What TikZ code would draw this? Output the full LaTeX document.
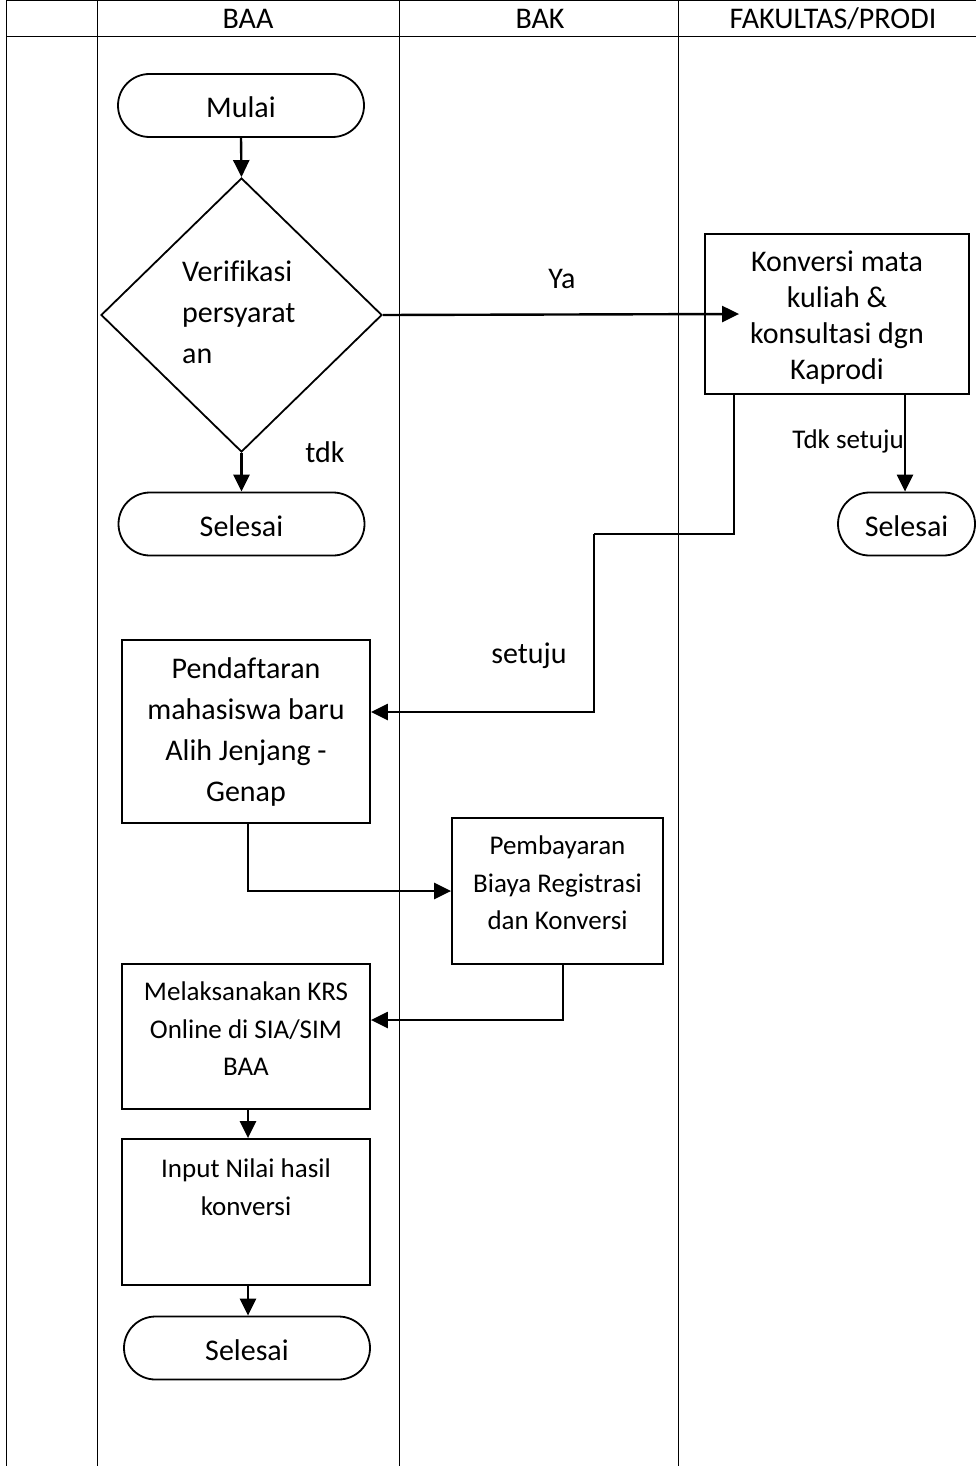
\documentclass[tikz,border=0pt]{standalone}
\usepackage{fontspec}
\setmainfont[Ligatures=NoCommon]{Carlito}
\usetikzlibrary{shapes.geometric,shapes.misc,arrows.meta}
\begin{document}
\begin{tikzpicture}[x=1pt,y=-1pt,
  grid/.style={line width=1pt},
  bigtxt/.style={font=\fontsize{30}{41}\selectfont, inner sep=0pt, align=center},
  smalltxt/.style={font=\fontsize{27}{37.5}\selectfont, inner sep=0pt, align=center},
  hdr/.style={font=\fontsize{30}{34}\selectfont, inner sep=0pt},
  terminal/.style={draw, line width=1.8pt, rounded rectangle, minimum width=246pt, minimum height=63pt, inner sep=0pt, text height=26pt, text depth=2pt, font=\fontsize{30}{36}\selectfont},
  procbox/.style={draw, line width=1.8pt, rectangle, inner sep=0pt},
  arr/.style={line width=2.4pt, -{Triangle[length=17pt,width=16pt]}},
  conn/.style={line width=2.4pt}
]
\useasboundingbox (0,0) rectangle (976,1466);
% swimlane table
\draw[grid] (6,1) -- (976,1);
\draw[grid] (6,37) -- (976,37);
\draw[grid] (6,1) -- (6,1466);
\draw[grid] (97,1) -- (97,1466);
\draw[grid] (399,1) -- (399,1466);
\draw[grid] (678,1) -- (678,1466);
\node[hdr] (hbaa) at (248,19) {BAA};
\node[hdr] (hbak) at (540,19) {BAK};
\node[hdr] (hfak) at (833,19) {FAKULTAS/PRODI};

% nodes
\node[terminal] (mulai) at (241,105.5) {Mulai};
\node[draw, line width=1.8pt, diamond, minimum width=281pt, minimum height=274pt, inner sep=0pt] (dec) at (241.5,315) {};
\node[bigtxt, align=left, anchor=west] (dectxt) at (182,312) {Verifikasi\\persyarat\\an};
\node[terminal] (sel1) at (241.5,524) {Selesai};

\node[procbox, minimum width=264pt, minimum height=160pt] (konv) at (837,314) {};
\node[bigtxt, font=\fontsize{30}{36}\selectfont] (konvtxt) at (837,318) {Konversi mata\\kuliah \&\\konsultasi dgn\\Kaprodi};
\node[terminal, minimum width=137pt] (sel2) at (906.5,524) {Selesai};

\node[procbox, minimum width=248pt, minimum height=183pt] (pend) at (246,731.5) {};
\node[bigtxt] (pendtxt) at (246,732) {Pendaftaran\\mahasiswa baru\\Alih Jenjang -\\Genap};

\node[procbox, minimum width=211pt, minimum height=146pt] (pemb) at (557.5,891) {};
\node[smalltxt] (pembtxt) at (557.5,883) {Pembayaran\\Biaya Registrasi\\dan Konversi};

\node[procbox, minimum width=248pt, minimum height=145pt] (melak) at (246,1036.5) {};
\node[smalltxt] (melaktxt) at (246,1029) {Melaksanakan KRS\\Online di SIA/SIM\\BAA};

\node[procbox, minimum width=248pt, minimum height=146pt] (inp) at (246,1212) {};
\node[smalltxt] (inptxt) at (246,1187) {Input Nilai hasil\\konversi};

\node[terminal] (sel3) at (247,1348) {Selesai};

% labels
\node[bigtxt] (lya) at (562,279) {Ya};
\node[bigtxt] (ltdk) at (325,452) {tdk};
\node[bigtxt] (lsetuju) at (529,656) {setuju};
\node[smalltxt, anchor=east] (ltdks) at (904,441) {Tdk setuju};

% connectors
\coordinate (konvR) at ([xshift=68pt]konv.south);
\coordinate (konvL) at ([xshift=-103pt]konv.south);
\coordinate (bend1) at (594,534);
\draw[arr] (mulai.south) -- (dec.north);
\draw[arr] (dec.south) -- (sel1.north);
\draw[arr] (dec.east) -- ([xshift=35pt]konv.west);
\draw[arr] (konvR) -- (sel2.north -| konvR);
\draw[conn] (konvL) |- (bend1);
\draw[arr] (bend1) |- ([yshift=19.5pt]pend.east);
\draw[arr] ([xshift=2pt]pend.south) |- (pemb.west);
\draw[arr] ([xshift=5.5pt]pemb.south) |- ([yshift=16.5pt]melak.east);
\draw[arr] ([xshift=2pt]melak.south) -- ([xshift=2pt]inp.north);
\draw[arr] ([xshift=2pt]inp.south) -- ([xshift=1pt]sel3.north);
\end{tikzpicture}
\end{document}
